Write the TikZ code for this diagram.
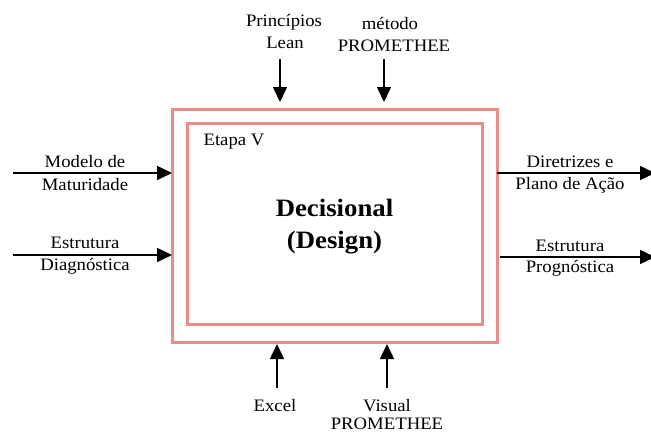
\documentclass[tikz,border=0pt]{standalone}
\usepackage{fontspec}
\setmainfont{Liberation Serif}[FakeStretch=1.07]
\usetikzlibrary{arrows.meta}
\definecolor{frame}{RGB}{232,140,140}
\tikzset{
  lbl/.style={font=\fontsize{17.5}{20}\selectfont, align=center, inner sep=0pt},
  flow/.style={line width=1.5pt, -{Triangle[length=15pt,width=14pt]}},
  boxline/.style={draw=frame, line width=3pt},
}
\begin{document}
\begin{tikzpicture}[x=1pt,y=-1pt]
\useasboundingbox (0,0) rectangle (651,434);
% double frame of the stage
\node[boxline, minimum width=325pt, minimum height=233pt, inner sep=0pt] (outer) at (334.5,225.5) {};
\node[boxline, minimum width=295pt, minimum height=201pt, inner sep=0pt] (inner) at (334.5,223.5) {};
\node[lbl] (stage) at (234,142) {Etapa V};
\node[font=\fontsize{25}{29}\selectfont\bfseries, align=center, inner sep=0pt] (title) at (334.5,227) {Decisional\\[3pt](Design)};

% inputs from the left
\coordinate (inA) at (13,173);
\coordinate (inAe) at (172,173);
\coordinate (inB) at (13,255);
\coordinate (inBe) at (172,255);
\draw[flow] (inA) -- (inAe);
\draw[flow] (inB) -- (inBe);
\node[lbl] (inAt) at (85,162) {Modelo de};
\node[lbl] (inAb) at (85,185) {Maturidade};
\node[lbl] (inBt) at (85,243) {Estrutura};
\node[lbl] (inBb) at (85,266) {Diagnóstica};

% outputs to the right
\coordinate (outA) at (497,173);
\coordinate (outAe) at (655,173);
\coordinate (outB) at (500,257);
\coordinate (outBe) at (655,257);
\draw[flow] (outA) -- (outAe);
\draw[flow] (outB) -- (outBe);
\node[lbl] (outAt) at (570,162) {Diretrizes e};
\node[lbl] (outAb) at (570,185) {Plano de Ação};
\node[lbl] (outBt) at (570,246) {Estrutura};
\node[lbl] (outBb) at (570,268) {Prognóstica};

% controls from above
\coordinate (ctlA) at (280,59);
\coordinate (ctlAe) at (280,102);
\coordinate (ctlB) at (384,59);
\coordinate (ctlBe) at (384,102);
\draw[flow] (ctlA) -- (ctlAe);
\draw[flow] (ctlB) -- (ctlBe);
\node[lbl] (ctlAt) at (284,22) {Princípios};
\node[lbl] (ctlAb) at (285,43) {Lean};
\node[lbl] (ctlBt) at (390,24) {método};
\node[lbl] (ctlBb) at (394,46) {PROMETHEE};

% mechanisms from below
\coordinate (mecA) at (277,388);
\coordinate (mecAe) at (277,344);
\coordinate (mecB) at (387,388);
\coordinate (mecBe) at (387,344);
\draw[flow] (mecA) -- (mecAe);
\draw[flow] (mecB) -- (mecBe);
\node[lbl] (mecAt) at (275,406) {Excel};
\node[lbl] (mecBt) at (387,406) {Visual};
\node[lbl] (mecBb) at (387,424) {PROMETHEE};
\end{tikzpicture}
\end{document}
